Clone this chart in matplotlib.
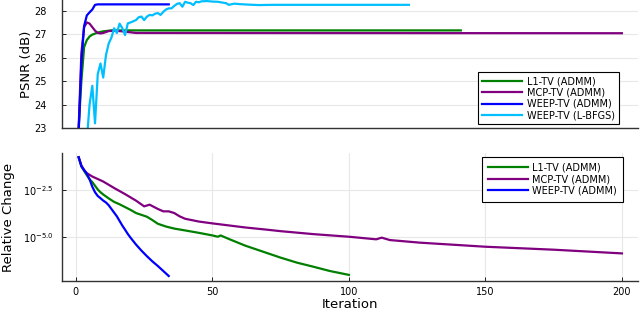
import numpy as np
import matplotlib
matplotlib.use("Agg")
import matplotlib.pyplot as plt

plt.rcParams['font.family'] = ['DejaVu Sans']
plt.rcParams['mathtext.fontset'] = 'dejavusans'

# ---- PSNR (top panel) ----
l1_psnr_it = [1, 2, 3, 4, 5, 6, 8, 10, 13, 141]
l1_psnr = [23.0, 25.0, 26.45, 26.75, 26.9, 26.98, 27.07, 27.12, 27.16, 27.16]

mcp_psnr_it = [1, 2, 3, 4, 5, 6, 7, 8, 9, 10, 12, 14, 17, 22, 200]
mcp_psnr = [23.0, 26.2, 27.3, 27.5, 27.45, 27.3, 27.15, 27.05, 27.03, 27.05,
            27.13, 27.15, 27.12, 27.05, 27.04]

weep_psnr_it = [1, 2, 3, 4, 5, 6, 7, 8, 34]
weep_psnr = [22.8, 25.8, 27.35, 27.8, 27.93, 28.05, 28.25, 28.27, 28.27]

lbfgs_psnr_it = [4, 5, 6, 7, 8, 9, 10, 11, 12, 13, 14, 15, 16, 17, 18, 19, 20,
                 21, 22, 23, 24, 25, 26, 27, 28, 29, 30, 31, 32, 33, 34, 35, 36,
                 37, 38, 39, 40, 41, 42, 43, 44, 45, 46, 48, 50, 52, 55, 56, 58,
                 60, 63, 67, 72, 122]
lbfgs_psnr = [22.5, 24.0, 24.8, 23.2, 25.3, 25.75, 25.15, 26.1, 26.6, 26.85,
              27.25, 27.05, 27.45, 27.25, 26.96, 27.46, 27.5, 27.55, 27.6, 27.72,
              27.75, 27.6, 27.75, 27.82, 27.8, 27.87, 27.9, 27.82, 27.95, 28.05,
              28.1, 28.1, 28.2, 28.29, 28.32, 28.17, 28.38, 28.34, 28.32, 28.24,
              28.38, 28.36, 28.4, 28.41, 28.39, 28.38, 28.32, 28.25, 28.3, 28.28,
              28.26, 28.24, 28.25, 28.25]

# ---- Relative change (bottom panel), log10 values ----
l1_rc_it = [1, 2, 3, 4, 5, 6, 7, 8, 9, 10, 12, 14, 16, 18, 20, 22, 24, 26, 28,
            30, 33, 36, 40, 45, 50, 52, 53, 56, 62, 68, 75, 81, 87, 93, 100]
l1_rc_log = [-0.71, -1.2, -1.45, -1.68, -1.9, -2.05, -2.25, -2.45, -2.6, -2.72,
             -2.93, -3.12, -3.25, -3.4, -3.55, -3.72, -3.82, -3.92, -4.1, -4.3,
             -4.45, -4.56, -4.66, -4.79, -4.93, -5.0, -4.93, -5.12, -5.48, -5.78,
             -6.13, -6.4, -6.62, -6.85, -7.06]

mcp_rc_it = [1, 2, 3, 4, 6, 10, 14, 18, 22, 25, 27, 30, 32, 34, 36, 38, 40, 45,
             50, 62, 70, 75, 87, 100, 110, 112, 115, 126, 150, 175, 200]
mcp_rc_log = [-0.71, -1.15, -1.4, -1.57, -1.75, -2.02, -2.37, -2.7, -3.05, -3.36,
              -3.27, -3.5, -3.63, -3.63, -3.72, -3.9, -4.03, -4.18, -4.28, -4.5,
              -4.62, -4.7, -4.86, -5.0, -5.14, -5.05, -5.18, -5.32, -5.54, -5.7,
              -5.9]

weep_rc_it = [1, 2, 3, 4, 5, 6, 7, 8, 9, 10, 11, 12, 13, 14, 15, 16, 17, 18, 19,
              20, 22, 24, 26, 28, 30, 32, 34]
weep_rc_log = [-0.71, -1.2, -1.4, -1.6, -1.9, -2.3, -2.6, -2.8, -2.92, -3.05,
               -3.15, -3.3, -3.5, -3.7, -3.9, -4.15, -4.4, -4.62, -4.85, -5.05,
               -5.42, -5.75, -6.05, -6.33, -6.58, -6.85, -7.12]

GREEN = '#008000'
PURPLE = '#800080'
BLUE = '#0000ff'
SKY = '#00bfff'
LW = 1.6

fig = plt.figure(figsize=(6.4, 3.15), dpi=100)
ax1 = fig.add_axes([62 / 640, 1 - 128 / 315, 576 / 640, 128 / 315])
ax2 = fig.add_axes([62 / 640, 1 - 281 / 315, 576 / 640, 128 / 315])

ax1.plot(l1_psnr_it, l1_psnr, color=GREEN, lw=LW, label='L1-TV (ADMM)')
ax1.plot(mcp_psnr_it, mcp_psnr, color=PURPLE, lw=LW, label='MCP-TV (ADMM)')
ax1.plot(weep_psnr_it, weep_psnr, color=BLUE, lw=LW, label='WEEP-TV (ADMM)')
ax1.plot(lbfgs_psnr_it, lbfgs_psnr, color=SKY, lw=LW, label='WEEP-TV (L-BFGS)')

ax2.plot(l1_rc_it, np.power(10.0, l1_rc_log), color=GREEN, lw=LW, label='L1-TV (ADMM)')
ax2.plot(mcp_rc_it, np.power(10.0, mcp_rc_log), color=PURPLE, lw=LW, label='MCP-TV (ADMM)')
ax2.plot(weep_rc_it, np.power(10.0, weep_rc_log), color=BLUE, lw=LW, label='WEEP-TV (ADMM)')

for ax in (ax1, ax2):
    ax.set_xlim(-5.1, 205.9)
    for s in ('top', 'right'):
        ax.spines[s].set_visible(False)
    for s in ('left', 'bottom'):
        ax.spines[s].set_color('#333333')
        ax.spines[s].set_linewidth(1.0)
    ax.tick_params(direction='in', length=3, width=0.6, labelsize=7,
                   colors='black')
    ax.set_axisbelow(True)

ax1.set_ylim(23, 28.456)
ax1.set_yticks([23, 24, 25, 26, 27, 28])
ax1.set_xticks([0, 50, 100, 150, 200])
ax1.tick_params(axis='x', length=0, labelbottom=False)
ax1.tick_params(axis='y', pad=11)
ax1.grid(axis='y', color='#e8e8e8', lw=0.8)
ax1.set_ylabel('PSNR (dB)', fontsize=9.5)
ax1.yaxis.set_label_coords(-0.05, 0.5)

ax2.set_yscale('log')
ax2.set_ylim(10 ** -7.39, 10 ** -0.48)
ax2.set_yticks([10 ** -2.5, 10 ** -5.0])
ax2.set_yticklabels([r'$10^{-2.5}$', r'$10^{-5.0}$'])
ax2.yaxis.set_minor_locator(matplotlib.ticker.NullLocator())
ax2.set_xticks([0, 50, 100, 150, 200])
ax2.tick_params(axis='y', pad=6)
ax2.tick_params(axis='x', pad=4)
ax2.grid(color='#e8e8e8', lw=0.8)
ax2.set_ylabel('Relative Change', fontsize=9.5)
ax2.yaxis.set_label_coords(-0.082, 0.5)
ax2.set_xlabel('Iteration', fontsize=9.5, labelpad=1)

leg_kw = dict(fontsize=7, frameon=True, fancybox=False, edgecolor='black',
              framealpha=1, handlelength=4.1, handletextpad=0.5,
              labelspacing=0.15, borderaxespad=0)
l1 = ax1.legend(loc='lower right', bbox_to_anchor=(0.967, 0.029),
                borderpad=0.4, **leg_kw)
l2 = ax2.legend(loc='upper right', bbox_to_anchor=(0.974, 0.969),
                borderpad=0.6, **leg_kw)
for lg in (l1, l2):
    lg.get_frame().set_linewidth(0.8)

fig.savefig('out.png', dpi=100)
